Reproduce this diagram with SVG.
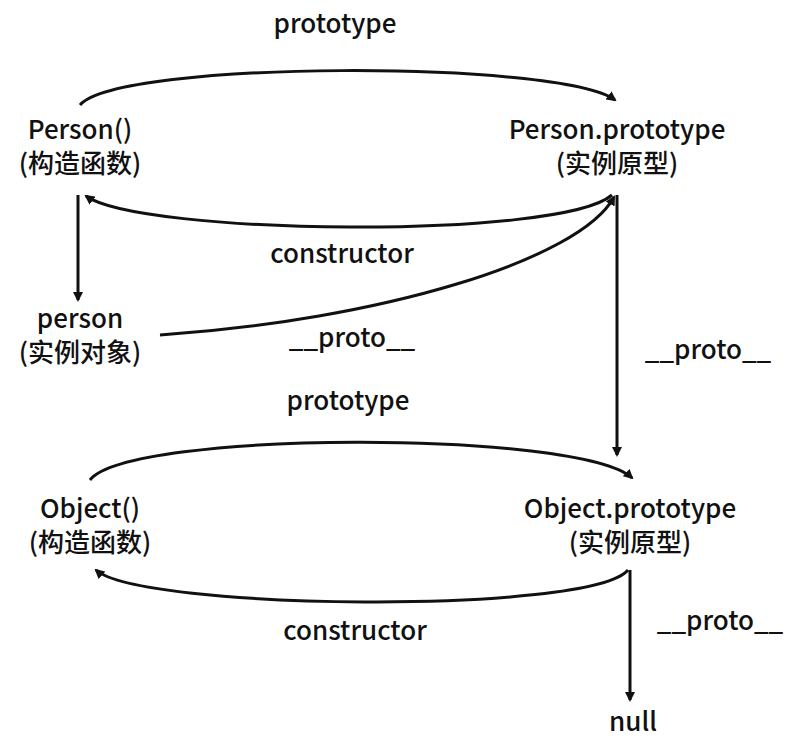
<svg xmlns="http://www.w3.org/2000/svg" width="800" height="750" viewBox="0 0 800 750">
<style>
text{font-family:"Noto Sans CJK SC","Noto Sans",sans-serif;font-size:26px;font-weight:500;fill:#111;text-anchor:middle}
.c{fill:none;stroke:#111;stroke-width:3}
</style>
<defs><marker id="a" markerWidth="10" markerHeight="10" refX="8" refY="5" orient="auto" markerUnits="userSpaceOnUse" viewBox="0 0 10 10"><path d="M0,0L10,5L0,10z" fill="#111"/></marker></defs>
<rect width="800" height="750" fill="#fff"/>
<g id="connectors">
<path class="c" d="M80,105 C120,60 560,60 615,100" marker-end="url(#a)"/>
<path class="c" d="M612,195 C560,240 140,235 86,196" marker-end="url(#a)"/>
<path class="c" d="M78,195 L78,300" marker-end="url(#a)"/>
<path class="c" d="M160,335 C380,320 580,260 614,197" marker-end="url(#a)"/>
<path class="c" d="M617,195 L617,455" marker-end="url(#a)"/>
<path class="c" d="M90,480 C130,430 580,430 632,478" marker-end="url(#a)"/>
<path class="c" d="M628,570 C590,615 140,610 96,570" marker-end="url(#a)"/>
<path class="c" d="M630,570 L630,700" marker-end="url(#a)"/>
</g>
<g id="labels">
<text x="335" y="33">prototype</text>
<text x="342" y="263">constructor</text>
<text x="352" y="347">__proto__</text>
<text x="708" y="359">__proto__</text>
<text x="348" y="410">prototype</text>
<text x="355" y="640">constructor</text>
<text x="720" y="630">__proto__</text>
</g>
<g id="person-fn"><text x="80" y="139">Person()</text><text x="80" y="173">(构造函数)</text></g>
<g id="person-proto"><text x="617" y="139">Person.prototype</text><text x="617" y="173">(实例原型)</text></g>
<g id="person"><text x="80" y="328">person</text><text x="80" y="362">(实例对象)</text></g>
<g id="object-fn"><text x="90" y="518">Object()</text><text x="90" y="552">(构造函数)</text></g>
<g id="object-proto"><text x="630" y="518">Object.prototype</text><text x="630" y="552">(实例原型)</text></g>
<g id="null"><text x="633" y="731">null</text></g>
</svg>
